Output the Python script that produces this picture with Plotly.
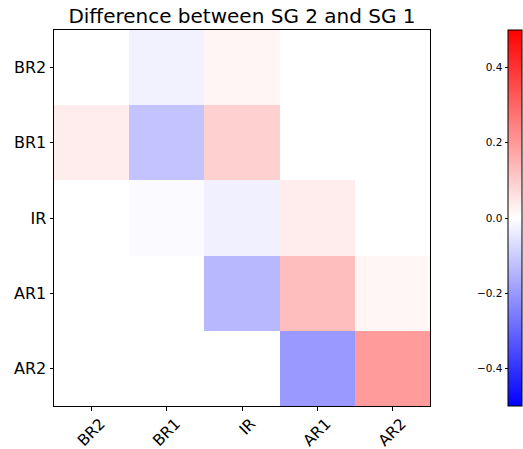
import plotly.graph_objects as go

labels = ["BR2", "BR1", "IR", "AR1", "AR2"]
# rows top to bottom: BR2, BR1, IR, AR1, AR2 ; columns left to right: BR2, BR1, IR, AR1, AR2
row_br2 = [0.0, -0.025, 0.02, 0.0, 0.0]
row_br1 = [0.037, -0.118, 0.092, 0.0, 0.0]
row_ir = [0.0, -0.01, -0.03, 0.037, 0.0]
row_ar1 = [0.0, 0.0, -0.14, 0.127, 0.018]
row_ar2 = [0.0, 0.0, 0.0, -0.2, 0.196]
z = [row_br2, row_br1, row_ir, row_ar1, row_ar2]
cbar_ticks = [-0.4, -0.2, 0.0, 0.2, 0.4]

W, H = 523, 449
L, R, T, B = 54, 0, 30, 43
paper_w = W - L - R          # 469
plot_w = 430 - L             # 376
cb_left = (508 - L) / paper_w

fig = go.Figure(go.Heatmap(
    z=z, x=labels, y=labels,
    zmin=-0.5, zmax=0.5,
    colorscale=[[0, "rgb(0,0,255)"], [0.5, "rgb(255,255,255)"], [1, "rgb(255,0,0)"]],
    hoverinfo="z",
    colorbar=dict(
        x=cb_left, xanchor="left", xref="paper",
        y=0, yanchor="bottom", len=1, lenmode="fraction",
        thickness=14, thicknessmode="pixels",
        outlinewidth=1, outlinecolor="black",
        ticks="", showticklabels=False,
        xpad=0, ypad=0,
    ),
))
# axis carrying the colorbar tick labels on its left side
fig.add_trace(go.Scatter(x=[None], y=[None], yaxis="y2", xaxis="x",
                         showlegend=False, hoverinfo="skip"))

fig.update_layout(
    width=W, height=H,
    margin=dict(l=L, r=R, t=T, b=B, autoexpand=False),
    paper_bgcolor="white", plot_bgcolor="white",
    font=dict(family="DejaVu Sans", color="black"),
    showlegend=False,
    title=dict(text="Difference between SG 2 and SG 1", x=(L + plot_w / 2) / W, xanchor="center",
               y=1 - 16 / H, yanchor="middle", font=dict(size=20, color="black")),
    xaxis=dict(
        domain=[0, plot_w / paper_w],
        type="category", showline=True, linecolor="black", linewidth=1, mirror=True,
        ticks="outside", ticklen=3.5, tickcolor="black", tickangle=-45,
        ticklabelshift=9, ticklabelstandoff=-2,
        tickfont=dict(size=15.5), showgrid=False, zeroline=False,
    ),
    yaxis=dict(
        type="category", autorange="reversed", showline=True, linecolor="black", linewidth=1, mirror=True,
        ticks="outside", ticklen=3.5, tickcolor="black",
        tickfont=dict(size=16), showgrid=False, zeroline=False,
    ),
    yaxis2=dict(
        overlaying="y", anchor="free", position=cb_left, side="left",
        range=[-0.5, 0.5], tickvals=cbar_ticks, tickformat=".1f",
        ticks="outside", ticklen=3.5, tickcolor="black",
        tickfont=dict(size=10.5), showgrid=False, zeroline=False, showline=False,
    ),
)

fig.write_html("out.html")
